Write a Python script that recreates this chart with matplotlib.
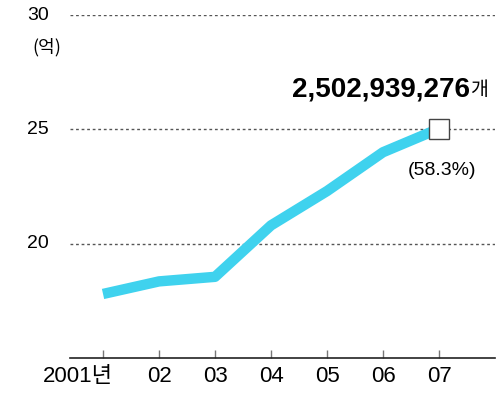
import matplotlib
matplotlib.use("Agg")
import matplotlib.pyplot as plt
from matplotlib import transforms

years = [2001, 2002, 2003, 2004, 2005, 2006, 2007]
xlabels = ["2001년", "02", "03", "04", "05", "06", "07"]
values = [17.8, 18.35, 18.55, 20.8, 22.3, 24.0, 25.03]
yticks = [20, 25, 30]

fam = ["Liberation Sans", "Noto Sans CJK KR", "DejaVu Sans"]
plt.rcParams['font.family'] = fam

fig = plt.figure(figsize=(5, 3.96), dpi=100)
ax = fig.add_axes([0.14, 0.096, 0.85, 0.866])
ax.set_xlim(2000.41, 2008.0)
ax.set_ylim(15, 30)

for v in yticks:
    ax.axhline(v, color="#555555", lw=1.0, ls=(0, (2, 2)), zorder=1)

ax.plot(years, values, color="#3fd2ee", lw=7.5, solid_capstyle="butt",
        solid_joinstyle="round", zorder=3)
ax.plot(years[-1], values[-1], marker="s", ms=15, mfc="white", mec="#444444",
        mew=1.0, zorder=4)

for s in ["top", "right", "left"]:
    ax.spines[s].set_visible(False)
ax.spines["bottom"].set_color("#222222")
ax.spines["bottom"].set_linewidth(1.2)

ax.set_xticks(years)
ax.set_xticklabels(xlabels, fontsize=16)
ax.tick_params(axis="x", direction="in", length=6, width=1, color="#777777", pad=6)
first = ax.get_xticklabels()[0]
first.set_ha("right")
first.set_transform(first.get_transform() + transforms.ScaledTranslation(10/100, 0, fig.dpi_scale_trans))
ax.set_yticks([])

for v in yticks:
    ax.text(-0.05, v, str(v), transform=ax.get_yaxis_transform(),
            ha="right", va="center", fontsize=14, family=fam)
ax.text(-0.02, 28.6, "(억)", transform=ax.get_yaxis_transform(),
        ha="right", va="center", fontsize=13, family=["Noto Sans CJK KR", "DejaVu Sans"])

ax.text(2007.55, 26.75, "2,502,939,276", fontsize=20, fontweight="bold",
        ha="right", va="center", family=fam)
ax.text(2007.55, 26.75, "개", fontsize=14, ha="left", va="center",
        family=["Noto Sans CJK KR"])
ax.text(2007.05, 23.2, "(58.3%)", fontsize=14, ha="center", va="center", family=fam)

fig.savefig("out.png", dpi=100)
